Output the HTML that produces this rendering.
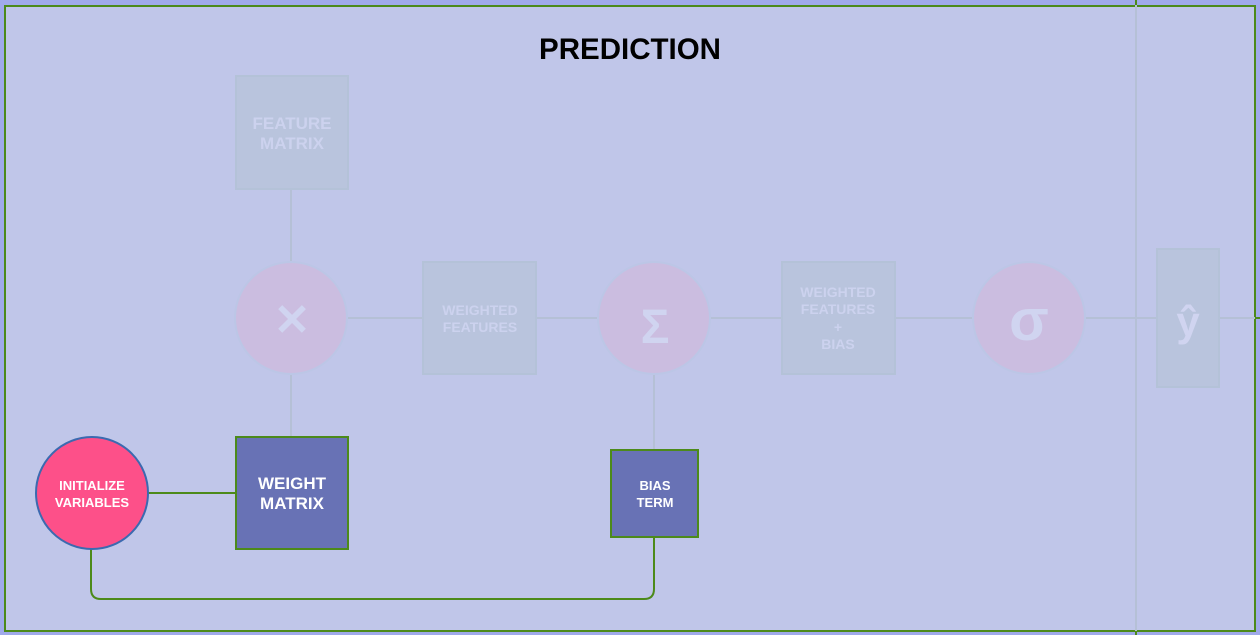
<!DOCTYPE html>
<html><head><meta charset="utf-8"><style>
html,body{margin:0;padding:0;background:#a0aaea;}
svg{display:block;}
text{font-family:"Liberation Sans",sans-serif;font-weight:bold;text-anchor:middle;}
</style></head><body>
<svg width="1260" height="635" viewBox="0 0 1260 635" xmlns="http://www.w3.org/2000/svg">
<rect x="0" y="0" width="1260" height="635" fill="#a0aaea"/>
<rect x="5" y="6" width="1250" height="625" fill="#c0c6e9" stroke="#4c8a1a" stroke-width="2"/>
<line x1="1136" y1="0" x2="1136" y2="635" stroke="#b5c0d6" stroke-width="2"/>
<line x1="1136" y1="0" x2="1136" y2="5" stroke="#4c8a1a" stroke-width="2"/>
<line x1="1136" y1="631" x2="1136" y2="635" stroke="#4c8a1a" stroke-width="2"/>
<text x="630" y="59" font-size="29.5" fill="#000">PREDICTION</text>
<g stroke="#b5c0d6" stroke-width="2" fill="none">
<line x1="291" y1="189" x2="291" y2="437"/>
<line x1="348" y1="318" x2="1156" y2="318"/>
<line x1="1219" y1="318" x2="1255" y2="318"/>
<line x1="654" y1="374" x2="654" y2="450"/>
</g>
<line x1="1255" y1="318" x2="1260" y2="318" stroke="#4c8a1a" stroke-width="2"/>
<g fill="#b9c4dd" stroke="#b4c2d8" stroke-width="2">
<rect x="236" y="76" width="112" height="113"/>
<rect x="423" y="262" width="113" height="112"/>
<rect x="782" y="262" width="113" height="112"/>
<rect x="1157" y="249" width="62" height="138"/>
</g>
<g fill="#cbbde0" stroke="#bcc6e6" stroke-width="2">
<circle cx="291" cy="318" r="56"/>
<circle cx="654" cy="318" r="56"/>
<circle cx="1029" cy="318" r="56"/>
</g>
<g fill="#ccd2ee">
<text x="292" y="129" font-size="17">FEATURE</text>
<text x="292" y="149" font-size="17">MATRIX</text>
<text x="480" y="315" font-size="14">WEIGHTED</text>
<text x="480" y="332" font-size="14">FEATURES</text>
<text x="838" y="297" font-size="14">WEIGHTED</text>
<text x="838" y="314" font-size="14">FEATURES</text>
<text x="838" y="332" font-size="14">+</text>
<text x="838" y="349" font-size="14">BIAS</text>
<text x="292" y="335" font-size="44" fill="#d0d4f0">✕</text>
<text x="655" y="343" font-size="48" font-weight="normal" fill="#d0d4f0">Σ</text>
<text x="1029" y="340" font-size="58" fill="#d0d4f0">σ</text>
<text x="1188" y="336" font-size="42" font-weight="normal" fill="#d0d4f0">ŷ</text>
</g>
<g stroke="#4c8a1a" stroke-width="2" fill="none">
<line x1="148" y1="493" x2="236" y2="493"/>
<path d="M91 549 V589 Q91 599 101 599 H644 Q654 599 654 589 V537"/>
</g>
<rect x="236" y="437" width="112" height="112" fill="#6872b5" stroke="#4c8a1a" stroke-width="2"/>
<text x="292" y="489" font-size="17" fill="#fff">WEIGHT</text>
<text x="292" y="509" font-size="17" fill="#fff">MATRIX</text>
<rect x="611" y="450" width="87" height="87" fill="#6872b5" stroke="#4c8a1a" stroke-width="2"/>
<text x="655" y="490" font-size="13" fill="#fff">BIAS</text>
<text x="655" y="507" font-size="13" fill="#fff">TERM</text>
<circle cx="92" cy="493" r="56" fill="#fd5089" stroke="#3b6ab0" stroke-width="2"/>
<text x="92" y="490" font-size="13" fill="#fff">INITIALIZE</text>
<text x="92" y="507" font-size="13" fill="#fff">VARIABLES</text>
</svg>
</body></html>
